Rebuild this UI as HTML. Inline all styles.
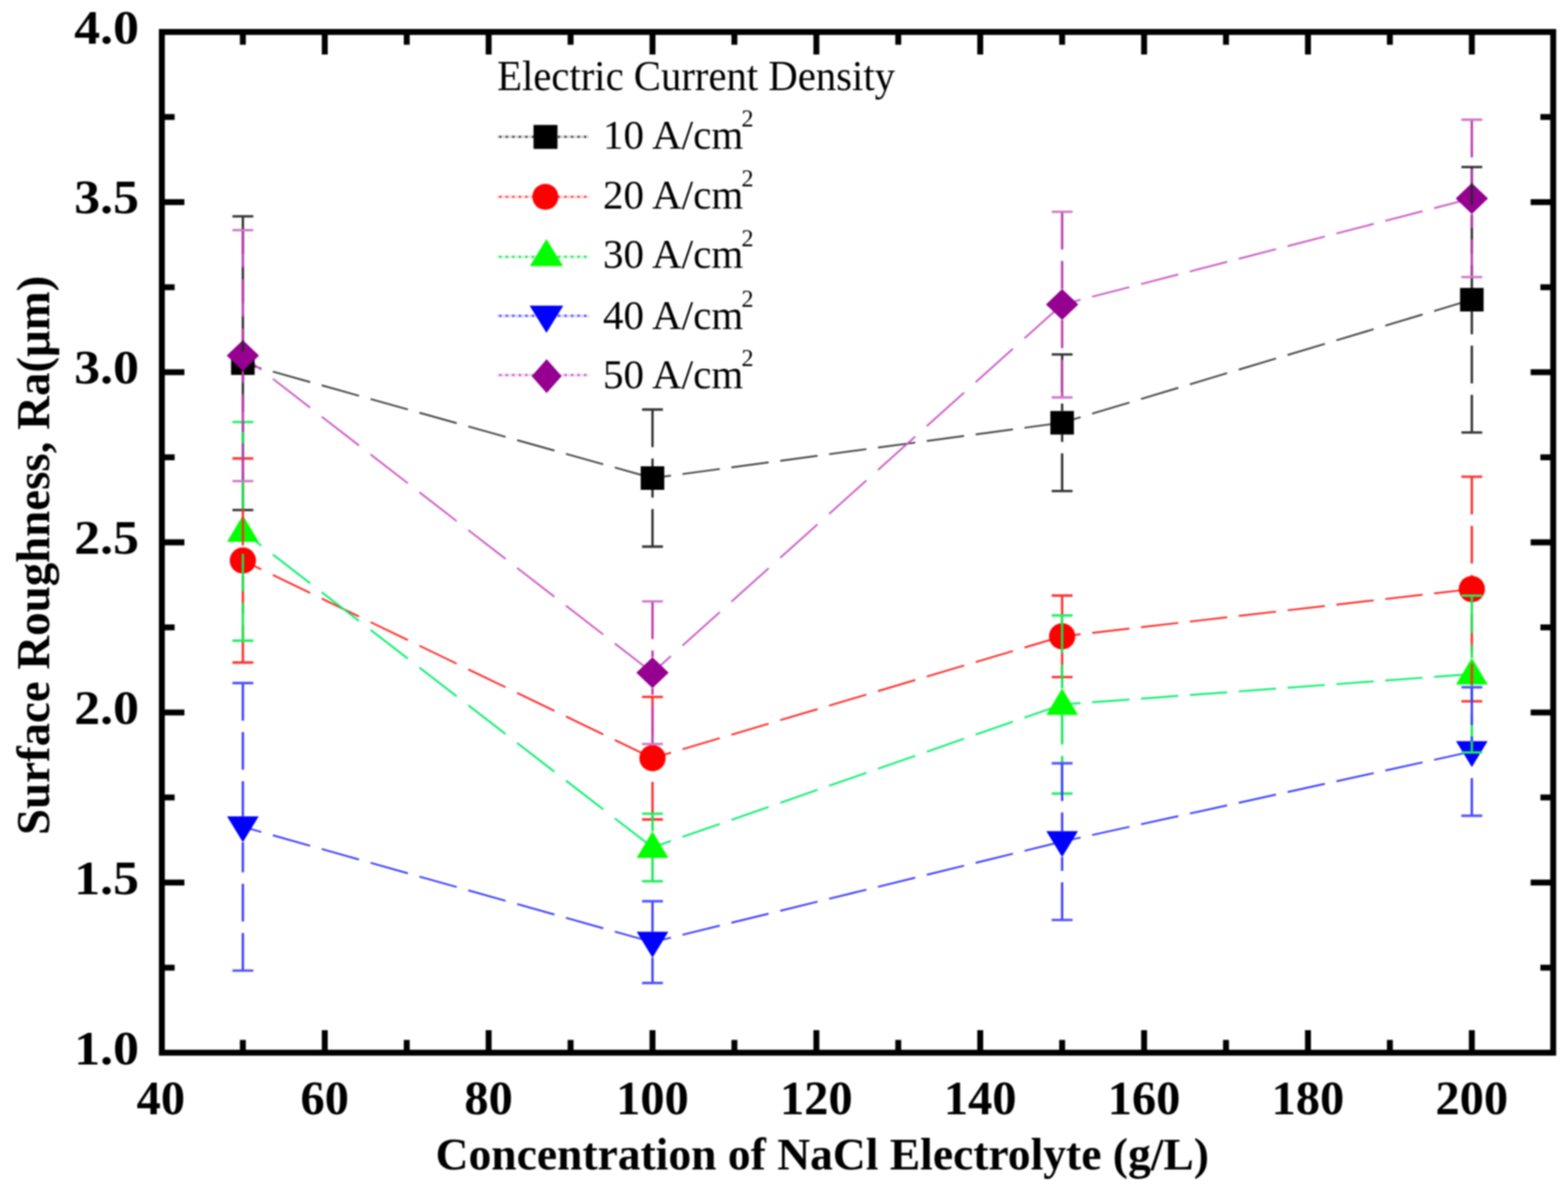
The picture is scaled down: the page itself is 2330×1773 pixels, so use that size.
<!DOCTYPE html>
<html><head><meta charset="utf-8"><title>Surface Roughness vs Concentration of NaCl Electrolyte</title>
<style>html,body{margin:0;padding:0;background:#fff;overflow:hidden;}svg{display:block;filter:blur(1px);}.b{font-family:"Liberation Serif","Times New Roman",serif;font-weight:bold;fill:#000;}.r{font-family:"Liberation Serif","Times New Roman",serif;font-weight:normal;fill:#000;}</style>
</head><body>
<svg width="2330" height="1773" viewBox="0 0 2330 1773">
<rect x="0" y="0" width="2330" height="1773" fill="#ffffff"/>
<g fill="none" stroke-width="2.7">
<path d="M360.9,539.8 L969.6,710.5" pathLength="608.8" stroke="#454545" stroke-dasharray="55.4 17.2" stroke-dashoffset="28"/>
<path d="M969.6,710.5 L1578.3,628.2" pathLength="608.7" stroke="#454545" stroke-dasharray="55.4 17.2" stroke-dashoffset="28"/>
<path d="M1578.3,628.2 L2187.1,445.4" pathLength="608.8" stroke="#454545" stroke-dasharray="55.4 17.2" stroke-dashoffset="28"/>
<path d="M360.9,833.0 L969.6,1126.8" pathLength="608.8" stroke="#ff2828" stroke-dasharray="55.4 17.2" stroke-dashoffset="28"/>
<path d="M969.6,1126.8 L1578.3,945.7" pathLength="608.7" stroke="#ff2828" stroke-dasharray="55.4 17.2" stroke-dashoffset="28"/>
<path d="M1578.3,945.7 L2187.1,875.4" pathLength="608.8" stroke="#ff2828" stroke-dasharray="55.4 17.2" stroke-dashoffset="28"/>
<path d="M360.9,789.7 L969.6,1259.4" pathLength="608.8" stroke="#06f06c" stroke-dasharray="55.4 17.2" stroke-dashoffset="28"/>
<path d="M969.6,1259.4 L1578.3,1047.0" pathLength="608.7" stroke="#06f06c" stroke-dasharray="55.4 17.2" stroke-dashoffset="28"/>
<path d="M1578.3,1047.0 L2187.1,1001.8" pathLength="608.8" stroke="#06f06c" stroke-dasharray="55.4 17.2" stroke-dashoffset="28"/>
<path d="M360.9,1228.8 L969.6,1400.2" pathLength="608.8" stroke="#3c3cff" stroke-dasharray="55.4 17.2" stroke-dashoffset="28"/>
<path d="M969.6,1400.2 L1578.3,1250.8" pathLength="608.7" stroke="#3c3cff" stroke-dasharray="55.4 17.2" stroke-dashoffset="28"/>
<path d="M1578.3,1250.8 L2187.1,1116.9" pathLength="608.8" stroke="#3c3cff" stroke-dasharray="55.4 17.2" stroke-dashoffset="28"/>
<path d="M360.9,528.5 L969.6,999.7" pathLength="608.8" stroke="#cc5cc4" stroke-dasharray="55.4 17.2" stroke-dashoffset="28"/>
<path d="M969.6,999.7 L1578.3,452.6" pathLength="608.7" stroke="#cc5cc4" stroke-dasharray="55.4 17.2" stroke-dashoffset="28"/>
<path d="M1578.3,452.6 L2187.1,294.9" pathLength="608.8" stroke="#cc5cc4" stroke-dasharray="55.4 17.2" stroke-dashoffset="28"/>
</g>
<g>
<rect x="343.4" y="522.2" width="35.0" height="35.0" fill="#000000"/>
<rect x="952.1" y="693.0" width="35.0" height="35.0" fill="#000000"/>
<rect x="1560.8" y="610.8" width="35.0" height="35.0" fill="#000000"/>
<rect x="2169.6" y="427.9" width="35.0" height="35.0" fill="#000000"/>
<circle cx="360.9" cy="833.0" r="19.5" fill="#ff0000"/>
<circle cx="969.6" cy="1126.8" r="19.5" fill="#ff0000"/>
<circle cx="1578.3" cy="945.7" r="19.5" fill="#ff0000"/>
<circle cx="2187.1" cy="875.4" r="19.5" fill="#ff0000"/>
<polygon points="360.9,765.7 384.4,805.2 337.4,805.2" fill="#00ff00"/>
<polygon points="969.6,1235.4 993.1,1274.9 946.1,1274.9" fill="#00ff00"/>
<polygon points="1578.3,1023.0 1601.8,1062.5 1554.8,1062.5" fill="#00ff00"/>
<polygon points="2187.1,977.8 2210.6,1017.3 2163.6,1017.3" fill="#00ff00"/>
<polygon points="337.4,1213.3 384.4,1213.3 360.9,1251.8" fill="#0000ff"/>
<polygon points="946.1,1384.7 993.1,1384.7 969.6,1423.2" fill="#0000ff"/>
<polygon points="1554.8,1235.3 1601.8,1235.3 1578.3,1273.8" fill="#0000ff"/>
<polygon points="2163.6,1101.4 2210.6,1101.4 2187.1,1139.9" fill="#0000ff"/>
<polygon points="360.9,505.5 384.9,528.5 360.9,551.5 336.9,528.5" fill="#950090"/>
<polygon points="969.6,976.7 993.6,999.7 969.6,1022.7 945.6,999.7" fill="#950090"/>
<polygon points="1578.3,429.6 1602.3,452.6 1578.3,475.6 1554.3,452.6" fill="#950090"/>
<polygon points="2187.1,271.9 2211.1,294.9 2187.1,317.9 2163.1,294.9" fill="#950090"/>
</g>
<g fill="none">
<path d="M360.9,321.5 L360.9,522.2" stroke="#2a2a2a" stroke-width="3.4" stroke-dasharray="56 17"/>
<path d="M360.9,758.0 L360.9,557.2" stroke="#2a2a2a" stroke-width="3.4" stroke-dasharray="56 17"/>
<path d="M345.4,321.5 H376.4 M345.4,758.0 H376.4" stroke="#333333" stroke-width="3.6"/>
<path d="M969.6,608.6 L969.6,693.0" stroke="#2a2a2a" stroke-width="3.4" stroke-dasharray="56 17"/>
<path d="M969.6,812.4 L969.6,728.0" stroke="#2a2a2a" stroke-width="3.4" stroke-dasharray="56 17"/>
<path d="M954.1,608.6 H985.1 M954.1,812.4 H985.1" stroke="#333333" stroke-width="3.6"/>
<path d="M1578.3,526.8 L1578.3,610.8" stroke="#2a2a2a" stroke-width="3.4" stroke-dasharray="56 17"/>
<path d="M1578.3,729.7 L1578.3,645.8" stroke="#2a2a2a" stroke-width="3.4" stroke-dasharray="56 17"/>
<path d="M1562.8,526.8 H1593.8 M1562.8,729.7 H1593.8" stroke="#333333" stroke-width="3.6"/>
<path d="M2187.1,248.2 L2187.1,427.9" stroke="#2a2a2a" stroke-width="3.4" stroke-dasharray="56 17"/>
<path d="M2187.1,642.7 L2187.1,462.9" stroke="#2a2a2a" stroke-width="3.4" stroke-dasharray="56 17"/>
<path d="M2171.6,248.2 H2202.6 M2171.6,642.7 H2202.6" stroke="#333333" stroke-width="3.6"/>
<path d="M360.9,681.4 L360.9,813.5" stroke="#ff2a2a" stroke-width="3.4" stroke-dasharray="56 17"/>
<path d="M360.9,984.6 L360.9,852.5" stroke="#ff2a2a" stroke-width="3.4" stroke-dasharray="56 17"/>
<path d="M345.4,681.4 H376.4 M345.4,984.6 H376.4" stroke="#ff3030" stroke-width="3.6"/>
<path d="M969.6,1035.8 L969.6,1107.3" stroke="#ff2a2a" stroke-width="3.4" stroke-dasharray="56 17"/>
<path d="M969.6,1217.9 L969.6,1146.3" stroke="#ff2a2a" stroke-width="3.4" stroke-dasharray="56 17"/>
<path d="M954.1,1035.8 H985.1 M954.1,1217.9 H985.1" stroke="#ff3030" stroke-width="3.6"/>
<path d="M1578.3,885.1 L1578.3,926.2" stroke="#ff2a2a" stroke-width="3.4" stroke-dasharray="56 17"/>
<path d="M1578.3,1006.3 L1578.3,965.2" stroke="#ff2a2a" stroke-width="3.4" stroke-dasharray="56 17"/>
<path d="M1562.8,885.1 H1593.8 M1562.8,1006.3 H1593.8" stroke="#ff3030" stroke-width="3.6"/>
<path d="M2187.1,708.5 L2187.1,855.9" stroke="#ff2a2a" stroke-width="3.4" stroke-dasharray="56 17"/>
<path d="M2187.1,1042.3 L2187.1,894.9" stroke="#ff2a2a" stroke-width="3.4" stroke-dasharray="56 17"/>
<path d="M2171.6,708.5 H2202.6 M2171.6,1042.3 H2202.6" stroke="#ff3030" stroke-width="3.6"/>
<path d="M360.9,627.3 L360.9,765.7" stroke="#10e850" stroke-width="3.4" stroke-dasharray="56 17"/>
<path d="M360.9,952.1 L360.9,805.2" stroke="#10e850" stroke-width="3.4" stroke-dasharray="56 17"/>
<path d="M345.4,627.3 H376.4 M345.4,952.1 H376.4" stroke="#20f060" stroke-width="3.6"/>
<path d="M969.6,1209.2 L969.6,1235.4" stroke="#10e850" stroke-width="3.4" stroke-dasharray="56 17"/>
<path d="M969.6,1309.6 L969.6,1274.9" stroke="#10e850" stroke-width="3.4" stroke-dasharray="56 17"/>
<path d="M954.1,1209.2 H985.1 M954.1,1309.6 H985.1" stroke="#20f060" stroke-width="3.6"/>
<path d="M1578.3,914.6 L1578.3,1023.0" stroke="#10e850" stroke-width="3.4" stroke-dasharray="56 17"/>
<path d="M1578.3,1179.4 L1578.3,1062.5" stroke="#10e850" stroke-width="3.4" stroke-dasharray="56 17"/>
<path d="M1562.8,914.6 H1593.8 M1562.8,1179.4 H1593.8" stroke="#20f060" stroke-width="3.6"/>
<path d="M2187.1,885.2 L2187.1,977.8" stroke="#10e850" stroke-width="3.4" stroke-dasharray="56 17"/>
<path d="M2187.1,1118.3 L2187.1,1017.3" stroke="#10e850" stroke-width="3.4" stroke-dasharray="56 17"/>
<path d="M2171.6,885.2 H2202.6 M2171.6,1118.3 H2202.6" stroke="#20f060" stroke-width="3.6"/>
<path d="M360.9,1015.1 L360.9,1213.3" stroke="#3a3aff" stroke-width="3.4" stroke-dasharray="56 17"/>
<path d="M360.9,1442.5 L360.9,1251.8" stroke="#3a3aff" stroke-width="3.4" stroke-dasharray="56 17"/>
<path d="M345.4,1015.1 H376.4 M345.4,1442.5 H376.4" stroke="#5050ff" stroke-width="3.6"/>
<path d="M969.6,1339.4 L969.6,1384.7" stroke="#3a3aff" stroke-width="3.4" stroke-dasharray="56 17"/>
<path d="M969.6,1460.9 L969.6,1423.2" stroke="#3a3aff" stroke-width="3.4" stroke-dasharray="56 17"/>
<path d="M954.1,1339.4 H985.1 M954.1,1460.9 H985.1" stroke="#5050ff" stroke-width="3.6"/>
<path d="M1578.3,1134.4 L1578.3,1235.3" stroke="#3a3aff" stroke-width="3.4" stroke-dasharray="56 17"/>
<path d="M1578.3,1367.2 L1578.3,1273.8" stroke="#3a3aff" stroke-width="3.4" stroke-dasharray="56 17"/>
<path d="M1562.8,1134.4 H1593.8 M1562.8,1367.2 H1593.8" stroke="#5050ff" stroke-width="3.6"/>
<path d="M2187.1,1021.4 L2187.1,1101.4" stroke="#3a3aff" stroke-width="3.4" stroke-dasharray="56 17"/>
<path d="M2187.1,1212.4 L2187.1,1139.9" stroke="#3a3aff" stroke-width="3.4" stroke-dasharray="56 17"/>
<path d="M2171.6,1021.4 H2202.6 M2171.6,1212.4 H2202.6" stroke="#5050ff" stroke-width="3.6"/>
<path d="M360.9,342.0 L360.9,505.5" stroke="#bb38ad" stroke-width="3.4" stroke-dasharray="56 17"/>
<path d="M360.9,715.0 L360.9,551.5" stroke="#bb38ad" stroke-width="3.4" stroke-dasharray="56 17"/>
<path d="M345.4,342.0 H376.4 M345.4,715.0 H376.4" stroke="#d078c8" stroke-width="3.6"/>
<path d="M969.6,893.7 L969.6,976.7" stroke="#bb38ad" stroke-width="3.4" stroke-dasharray="56 17"/>
<path d="M969.6,1105.7 L969.6,1022.7" stroke="#bb38ad" stroke-width="3.4" stroke-dasharray="56 17"/>
<path d="M954.1,893.7 H985.1 M954.1,1105.7 H985.1" stroke="#d078c8" stroke-width="3.6"/>
<path d="M1578.3,314.7 L1578.3,429.6" stroke="#bb38ad" stroke-width="3.4" stroke-dasharray="56 17"/>
<path d="M1578.3,590.6 L1578.3,475.6" stroke="#bb38ad" stroke-width="3.4" stroke-dasharray="56 17"/>
<path d="M1562.8,314.7 H1593.8 M1562.8,590.6 H1593.8" stroke="#d078c8" stroke-width="3.6"/>
<path d="M2187.1,177.9 L2187.1,271.9" stroke="#bb38ad" stroke-width="3.4" stroke-dasharray="56 17"/>
<path d="M2187.1,411.8 L2187.1,317.9" stroke="#bb38ad" stroke-width="3.4" stroke-dasharray="56 17"/>
<path d="M2171.6,177.9 H2202.6 M2171.6,411.8 H2202.6" stroke="#d078c8" stroke-width="3.6"/>
</g>
<g stroke="#000" stroke-width="8.8" fill="none" stroke-linecap="butt">
<rect x="240.5" y="47.5" width="2067.5" height="1517.0"/>
<path d="M482.6,1564.5 V1531.0 M482.6,47.5 V81.0 M726.1,1564.5 V1531.0 M726.1,47.5 V81.0 M969.6,1564.5 V1531.0 M969.6,47.5 V81.0 M1213.1,1564.5 V1531.0 M1213.1,47.5 V81.0 M1456.6,1564.5 V1531.0 M1456.6,47.5 V81.0 M1700.1,1564.5 V1531.0 M1700.1,47.5 V81.0 M1943.6,1564.5 V1531.0 M1943.6,47.5 V81.0 M2187.1,1564.5 V1531.0 M2187.1,47.5 V81.0 M360.9,1564.5 V1545.5 M360.9,47.5 V66.5 M604.4,1564.5 V1545.5 M604.4,47.5 V66.5 M847.9,1564.5 V1545.5 M847.9,47.5 V66.5 M1091.3,1564.5 V1545.5 M1091.3,47.5 V66.5 M1334.8,1564.5 V1545.5 M1334.8,47.5 V66.5 M1578.3,1564.5 V1545.5 M1578.3,47.5 V66.5 M1821.8,1564.5 V1545.5 M1821.8,47.5 V66.5 M2065.3,1564.5 V1545.5 M2065.3,47.5 V66.5 M240.5,300.3 H274.0 M2308.0,300.3 H2274.5 M240.5,553.2 H274.0 M2308.0,553.2 H2274.5 M240.5,806.0 H274.0 M2308.0,806.0 H2274.5 M240.5,1058.8 H274.0 M2308.0,1058.8 H2274.5 M240.5,1311.7 H274.0 M2308.0,1311.7 H2274.5 M240.5,173.9 H259.5 M2308.0,173.9 H2289.0 M240.5,426.8 H259.5 M2308.0,426.8 H2289.0 M240.5,679.6 H259.5 M2308.0,679.6 H2289.0 M240.5,932.4 H259.5 M2308.0,932.4 H2289.0 M240.5,1185.2 H259.5 M2308.0,1185.2 H2289.0 M240.5,1438.1 H259.5 M2308.0,1438.1 H2289.0"/>
</g>
<g class="b" font-size="72">
<text x="239.1" y="1655.5" text-anchor="middle">40</text>
<text x="482.6" y="1655.5" text-anchor="middle">60</text>
<text x="726.1" y="1655.5" text-anchor="middle">80</text>
<text x="969.6" y="1655.5" text-anchor="middle">100</text>
<text x="1213.1" y="1655.5" text-anchor="middle">120</text>
<text x="1456.6" y="1655.5" text-anchor="middle">140</text>
<text x="1700.1" y="1655.5" text-anchor="middle">160</text>
<text x="1943.6" y="1655.5" text-anchor="middle">180</text>
<text x="2187.1" y="1655.5" text-anchor="middle">200</text>
</g>
<g class="b" font-size="72">
<text transform="translate(206.5,64.5) scale(1.07,1)" text-anchor="end">4.0</text>
<text transform="translate(206.5,317.3) scale(1.07,1)" text-anchor="end">3.5</text>
<text transform="translate(206.5,570.2) scale(1.07,1)" text-anchor="end">3.0</text>
<text transform="translate(206.5,823.0) scale(1.07,1)" text-anchor="end">2.5</text>
<text transform="translate(206.5,1075.8) scale(1.07,1)" text-anchor="end">2.0</text>
<text transform="translate(206.5,1328.7) scale(1.07,1)" text-anchor="end">1.5</text>
<text transform="translate(206.5,1581.5) scale(1.07,1)" text-anchor="end">1.0</text>
</g>
<text class="b" x="647.3" y="1737.7" font-size="67.7">Concentration of NaCl Electrolyte (g/L)</text>
<text class="b" font-size="69.7" transform="translate(72.6,1241) rotate(-90)">Surface Roughness, Ra(μm)</text>
<text class="r" font-size="60.5" transform="translate(738.7,133.6) scale(1,1.06)">Electric Current Density</text>
<path d="M739,203.3 H875" stroke="#404040" stroke-width="4" opacity="0.22" fill="none"/>
<path d="M741.9,203.3 H875" stroke="#404040" stroke-width="3.2" stroke-dasharray="3 6.7" fill="none"/>
<rect x="792.8" y="185.7" width="35.6" height="35.6" fill="#000000"/>
<text class="r" x="896" y="220.7" font-size="61">10 A/cm<tspan dx="-2.7" dy="-32.7" font-size="36">2</tspan></text>
<path d="M739,292.5 H875" stroke="#ff3030" stroke-width="4" opacity="0.22" fill="none"/>
<path d="M741.9,292.5 H875" stroke="#ff3030" stroke-width="3.2" stroke-dasharray="3 6.7" fill="none"/>
<circle cx="810.4" cy="292.5" r="19.3" fill="#ff0000"/>
<text class="r" x="896" y="309.5" font-size="61">20 A/cm<tspan dx="-2.7" dy="-32.7" font-size="36">2</tspan></text>
<path d="M739,381.7 H875" stroke="#10e050" stroke-width="4" opacity="0.22" fill="none"/>
<path d="M741.9,381.7 H875" stroke="#10e050" stroke-width="3.2" stroke-dasharray="3 6.7" fill="none"/>
<polygon points="812,355.2 836.7,395.6 787.3,395.6" fill="#00ff00"/>
<text class="r" x="896" y="398.4" font-size="61">30 A/cm<tspan dx="-2.7" dy="-32.7" font-size="36">2</tspan></text>
<path d="M739,469.4 H875" stroke="#4040ff" stroke-width="4" opacity="0.22" fill="none"/>
<path d="M741.9,469.4 H875" stroke="#4040ff" stroke-width="3.2" stroke-dasharray="3 6.7" fill="none"/>
<polygon points="787,454.3 837,454.3 812,494.7" fill="#0000ff"/>
<text class="r" x="896" y="488.6" font-size="61">40 A/cm<tspan dx="-2.7" dy="-32.7" font-size="36">2</tspan></text>
<path d="M739,557.4 H875" stroke="#c050c0" stroke-width="4" opacity="0.22" fill="none"/>
<path d="M741.9,557.4 H875" stroke="#c050c0" stroke-width="3.2" stroke-dasharray="3 6.7" fill="none"/>
<polygon points="812.3,533.8 834.5,559.0 812.3,584.3 790.1,559.0" fill="#950090"/>
<text class="r" x="896" y="576.5" font-size="61">50 A/cm<tspan dx="-2.7" dy="-32.7" font-size="36">2</tspan></text>
</svg>
</body></html>
